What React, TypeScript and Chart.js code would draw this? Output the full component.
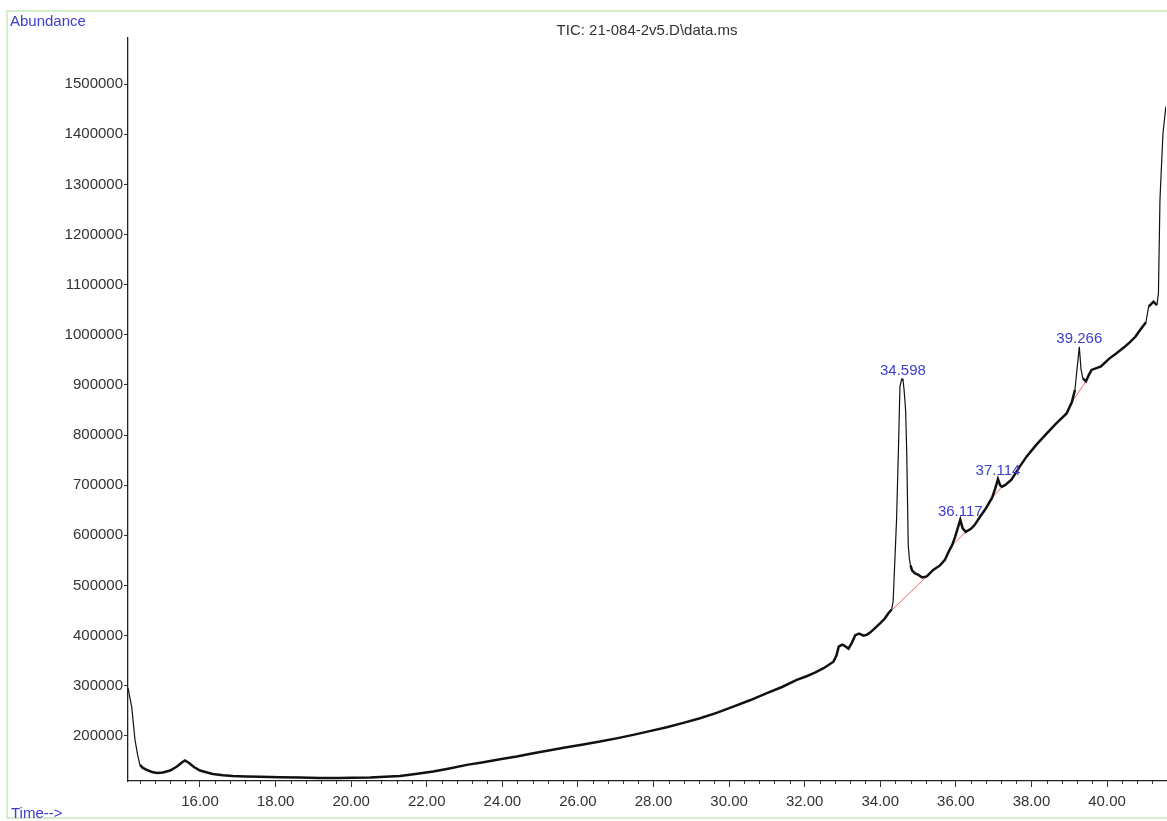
import { useEffect, useRef } from "react";
import { Chart, registerables } from "chart.js";

Chart.register(...registerables);

// Total ion chromatogram: retention time (min) against abundance
const retentionTimes = [
  14.095, 14.148, 14.193, 14.24, 14.28, 14.35, 14.41, 14.49, 14.59, 14.73,
  14.86, 15.02, 15.21, 15.39, 15.52, 15.6, 15.71, 15.84, 16.0, 16.19,
  16.34, 16.61, 16.87, 17.22, 17.59, 18.12, 18.65, 19.17, 19.7, 20.02,
  20.5, 20.89, 21.29, 21.7, 22.17, 22.6, 23.06, 23.5, 23.94, 24.38,
  24.82, 25.26, 25.7, 26.14, 26.58, 27.02, 27.46, 27.9, 28.35, 28.79,
  29.23, 29.67, 30.11, 30.55, 31.0, 31.4, 31.79, 32.05, 32.27, 32.5,
  32.76, 32.84, 32.9, 32.99, 33.07, 33.16, 33.25, 33.34, 33.44, 33.56,
  33.65, 33.73, 33.86, 34.0, 34.12, 34.21, 34.3, 34.34, 34.38, 34.43,
  34.48, 34.52, 34.56, 34.598, 34.63, 34.67, 34.7, 34.74, 34.77, 34.8,
  34.84, 34.92, 35.01, 35.11, 35.23, 35.31, 35.4, 35.58, 35.71, 35.8,
  35.9, 35.98, 36.06, 36.117, 36.18, 36.26, 36.4, 36.5, 36.63, 36.77,
  36.88, 36.96, 37.04, 37.114, 37.17, 37.22, 37.3, 37.47, 37.69, 37.87,
  38.12, 38.4, 38.65, 38.93, 39.07, 39.15, 39.21, 39.266, 39.31, 39.36,
  39.44, 39.52, 39.59, 39.84, 40.05, 40.25, 40.45, 40.6, 40.75, 40.88,
  41.03, 41.1, 41.23, 41.32, 41.36, 41.4, 41.48, 41.556,
];

const abundance = [
  296000, 275000, 258000, 222000, 192000, 162000, 142000, 136000, 132000, 128000,
  126000, 127000, 131000, 139000, 147000, 151000, 146000, 138000, 131000, 127000,
  124000, 121500, 120000, 119000, 118500, 117500, 117000, 116200, 116000, 116300,
  117000, 118500, 120200, 124000, 128800, 135000, 142200, 147500, 153500, 159000,
  165500, 171500, 177500, 183000, 188600, 195000, 202000, 209500, 217300, 226000,
  235300, 246000, 258400, 271000, 285100, 297500, 311700, 319000, 326000, 335000,
  348000, 360000, 378000, 382000, 379000, 374000, 386000, 401000, 404000, 400000,
  402000, 406000, 415000, 425000, 434000, 444000, 452000, 468000, 540000, 630000,
  770000, 896000, 910000, 912000, 890000, 850000, 765000, 580000, 553000, 540000,
  530000, 524000, 521000, 516000, 518000, 524000, 531000, 540000, 551000, 566000,
  580000, 597000, 617000, 631000, 614000, 607000, 613000, 621000, 636000, 651000,
  665000, 675000, 693000, 712000, 700000, 697000, 700000, 711000, 737000, 757000,
  780000, 803000, 823000, 843000, 866000, 890000, 935000, 976000, 932000, 913000,
  907000, 920000, 930000, 937000, 952000, 963000, 975000, 985000, 996000, 1010000,
  1025000, 1056000, 1066000, 1059000, 1083000, 1269000, 1402000, 1455000,
];

// Integrated peaks (retention times printed above each apex)
const peakTimes = [34.598, 36.117, 37.114, 39.266];

// Integration baselines drawn under each peak
const baselineStartTimes = [34.21, 35.9, 36.96, 39.07];
const baselineStartLevels = [444000, 580000, 675000, 866000];
const baselineEndTimes = [35.31, 36.26, 37.22, 39.44];
const baselineEndLevels = [524000, 607000, 697000, 907000];

// Axis ranges and tick steps
const timeMin = 14.095;
const timeMax = 41.56;
const timeMajorStep = 2;
const timeMinorStep = 0.4;
const abundanceMin = 110000;
const abundanceMax = 1592000;
const abundanceStep = 100000;

const chartTitle = "TIC: 21-084-2v5.D\\data.ms";
const yAxisCaption = "Abundance";
const xAxisCaption = "Time-->";

const FONT = "'Liberation Sans', Arial, sans-serif";
const BLUE = "#3d3dcc";

// Regular tick values between a scale's bounds
function stepTicks(min: number, max: number, step: number) {
  const out: { value: number }[] = [];
  const first = Math.ceil(min / step - 1e-9);
  const last = Math.floor(max / step + 1e-9);
  for (let k = first; k <= last; k++) {
    out.push({ value: Math.round(k * step * 1000) / 1000 });
  }
  return out;
}

const framePlugin = {
  id: "frame",
  beforeDraw(chart: Chart) {
    const { ctx, width, height } = chart;
    ctx.save();
    ctx.fillStyle = "#ffffff";
    ctx.fillRect(0, 0, width, height);
    ctx.strokeStyle = "#d4edcc";
    ctx.lineWidth = 2;
    ctx.strokeRect(7, 11, width + 10, height - 14);
    ctx.restore();
  },
};

const minorTicksPlugin = {
  id: "minorTicks",
  afterDraw(chart: Chart) {
    const x = chart.scales.x;
    const { ctx } = chart;
    const yBase = chart.chartArea.bottom;
    ctx.save();
    ctx.strokeStyle = "#333";
    ctx.lineWidth = 1;
    stepTicks(x.min, x.max, timeMinorStep).forEach(({ value }) => {
      const r = value / timeMajorStep;
      if (Math.abs(r - Math.round(r)) < 1e-6) return;
      const px = Math.round(x.getPixelForValue(value)) + 0.5;
      ctx.beginPath();
      ctx.moveTo(px, yBase);
      ctx.lineTo(px, yBase + 3);
      ctx.stroke();
    });
    ctx.restore();
  },
};

const captionsPlugin = {
  id: "captions",
  afterDraw(chart: Chart) {
    const { ctx } = chart;
    ctx.save();
    ctx.fillStyle = BLUE;
    ctx.font = `15px ${FONT}`;
    ctx.textAlign = "left";
    ctx.textBaseline = "alphabetic";
    ctx.fillText(yAxisCaption, 10, 26);
    ctx.fillText(xAxisCaption, 11, 818);
    ctx.restore();
  },
};

const peakLabelsPlugin = {
  id: "peakLabels",
  afterDatasetsDraw(chart: Chart) {
    const { ctx } = chart;
    const x = chart.scales.x;
    const y = chart.scales.y;
    ctx.save();
    ctx.fillStyle = BLUE;
    ctx.font = `15px ${FONT}`;
    ctx.textAlign = "center";
    ctx.textBaseline = "alphabetic";
    peakTimes.forEach((t) => {
      const i = retentionTimes.indexOf(t);
      if (i < 0) return;
      const px = x.getPixelForValue(t);
      const py = y.getPixelForValue(abundance[i]);
      ctx.fillText(t.toFixed(3), px, py - 4);
    });
    ctx.restore();
  },
};

export default function App() {
  const canvasRef = useRef<HTMLCanvasElement | null>(null);

  useEffect(() => {
    const canvas = canvasRef.current;
    if (!canvas) return;

    const trace = retentionTimes.map((t, i) => ({ x: t, y: abundance[i] }));
    const baselines = baselineStartTimes.map((t0, i) => ({
      type: "line" as const,
      data: [
        { x: t0, y: baselineStartLevels[i] },
        { x: baselineEndTimes[i], y: baselineEndLevels[i] },
      ],
      borderColor: "#ee6a6a",
      borderWidth: 1,
      pointRadius: 0,
      tension: 0,
      order: 2,
    }));

    const chart = new Chart(canvas, {
      type: "line",
      data: {
        datasets: [
          {
            data: trace,
            borderColor: "#111111",
            borderWidth: 2.5,
            pointRadius: 0,
            tension: 0,
            order: 1,
            segment: {
              // steep flanks of the peaks are drawn with a thinner pen
              borderWidth: (c: any) => {
                const dx = Math.abs(c.p1.x - c.p0.x);
                const dy = Math.abs(c.p1.y - c.p0.y);
                return dy > dx * 4 ? 1.2 : 2.5;
              },
            },
          },
          ...baselines,
        ],
      },
      options: {
        animation: false,
        responsive: false,
        devicePixelRatio: 1,
        layout: { padding: { left: 0, right: 1, top: 0, bottom: 0 } },
        plugins: {
          legend: { display: false },
          tooltip: { enabled: false },
          title: {
            display: true,
            text: chartTitle,
            fullSize: false,
            color: "#333333",
            font: { family: FONT, size: 15, weight: "normal", lineHeight: 1.2 },
            padding: { top: 22, bottom: -2 },
          },
        },
        scales: {
          x: {
            type: "linear",
            min: timeMin,
            max: timeMax,
            afterBuildTicks: (scale: any) => {
              scale.ticks = stepTicks(scale.min, scale.max, timeMajorStep);
            },
            afterFit: (scale: any) => {
              scale.height = 40;
            },
            ticks: {
              autoSkip: false,
              maxRotation: 0,
              padding: 6,
              color: "#333333",
              font: { family: FONT, size: 15 },
              callback: (v: any) => Number(v).toFixed(2),
            },
            grid: {
              drawOnChartArea: false,
              drawTicks: true,
              tickLength: 6,
              tickColor: "#333333",
            },
            border: { display: true, color: "#222222", width: 1.3 },
          },
          y: {
            type: "linear",
            min: abundanceMin,
            max: abundanceMax,
            afterBuildTicks: (scale: any) => {
              scale.ticks = stepTicks(scale.min, scale.max, abundanceStep);
            },
            afterFit: (scale: any) => {
              scale.width = 128;
            },
            ticks: {
              autoSkip: false,
              padding: 1,
              color: "#333333",
              font: { family: FONT, size: 15 },
              callback: (v: any) => String(Math.round(Number(v))),
            },
            grid: {
              drawOnChartArea: false,
              drawTicks: true,
              tickLength: 4,
              tickColor: "#333333",
            },
            border: { display: true, color: "#222222", width: 1.3 },
          },
        },
      },
      plugins: [framePlugin, minorTicksPlugin, captionsPlugin, peakLabelsPlugin],
    } as any);

    return () => chart.destroy();
  }, []);

  return (
    <div
      style={{
        position: "fixed",
        left: 0,
        top: 0,
        width: 1167,
        height: 821,
        background: "#ffffff",
      }}
    >
      <canvas
        ref={canvasRef}
        width={1167}
        height={821}
        style={{ display: "block", width: 1167, height: 821 }}
      />
    </div>
  );
}
